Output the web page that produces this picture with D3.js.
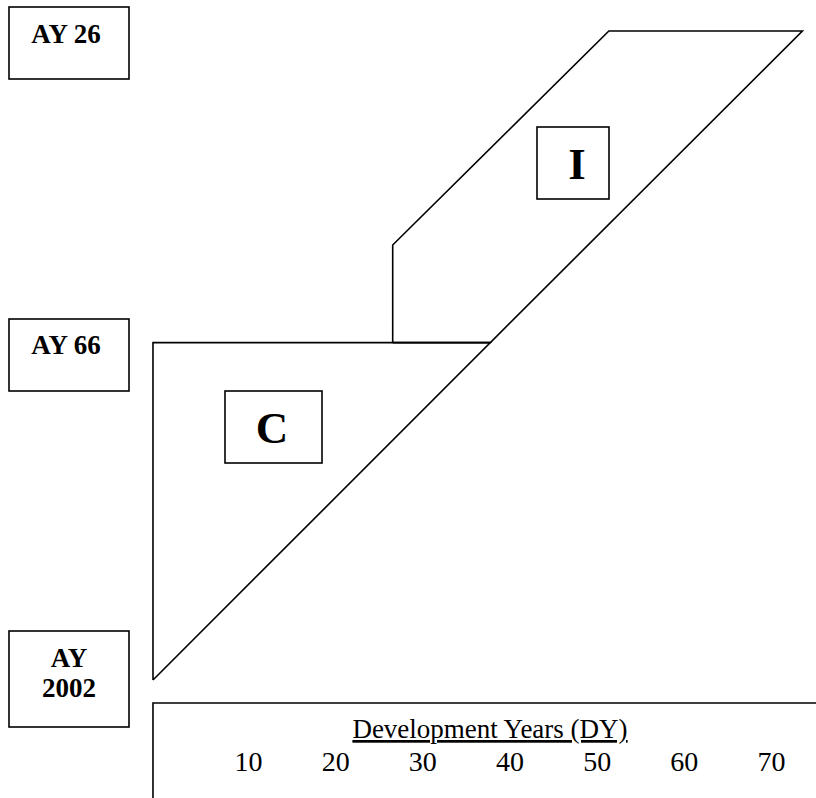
<!DOCTYPE html>
<html>
<head>
<meta charset="utf-8">
<script src="https://cdn.jsdelivr.net/npm/d3@7"></script>
<style>
  html, body { margin: 0; padding: 0; background: #fff; }
  svg { display: block; }
  text { font-family: "Liberation Serif", "Times New Roman", serif; fill: #000; }
</style>
</head>
<body>
<script>
// ---- data ----
const devYearTicks = [10, 20, 30, 40, 50, 60, 70];
const axisTitle = "Development Years (DY)";
const ayLabels = [["AY 26"], ["AY 66"], ["AY", "2002"]];
const regionLabels = ["C", "I"];
// region outlines in (development year, years above AY 2002 line)
const regionC = [[-0.9, 0], [-0.9, 38.7], [37.8, 38.7], [-0.9, 0]];
const regionI = [[26.6, 38.7], [26.6, 49.9], [51.4, 74.45], [73.6, 74.45], [37.8, 38.7], [26.6, 38.7]];

// ---- layout ----
const W = 816, H = 798;
const svg = d3.select("body").append("svg").attr("width", W).attr("height", H);

const x = d3.scaleLinear().domain([10, 70]).range([248, 771]);
const y = d3.scaleLinear().domain([0, 74.45]).range([680, 31]);

const line = d3.line().x(d => x(d[0])).y(d => y(d[1]));

svg.append("path").attr("d", line(regionC))
  .attr("fill", "none").attr("stroke", "#000").attr("stroke-width", 1.6);
svg.append("path").attr("d", line(regionI))
  .attr("fill", "none").attr("stroke", "#000").attr("stroke-width", 1.6);

// region label boxes
const regionBoxes = [
  { x: 225, y: 391, w: 97, h: 72, tx: 272, ty: 443 },
  { x: 537, y: 127, w: 72, h: 72, tx: 577, ty: 179 }
];
regionLabels.forEach((lab, i) => {
  const b = regionBoxes[i];
  svg.append("rect").attr("x", b.x).attr("y", b.y).attr("width", b.w).attr("height", b.h)
    .attr("fill", "#fff").attr("stroke", "#000").attr("stroke-width", 1.6);
  svg.append("text").attr("x", b.tx).attr("y", b.ty).attr("text-anchor", "middle")
    .attr("font-size", 45).attr("font-weight", "bold").text(lab);
});

// AY boxes
const ayBoxes = [
  { x: 9, y: 7, w: 120, h: 72, tx: 66, ty: [43] },
  { x: 9, y: 319, w: 120, h: 72, tx: 66, ty: [354] },
  { x: 9, y: 631, w: 120, h: 96, tx: 69, ty: [667, 697] }
];
ayLabels.forEach((lines, i) => {
  const b = ayBoxes[i];
  svg.append("rect").attr("x", b.x).attr("y", b.y).attr("width", b.w).attr("height", b.h)
    .attr("fill", "#fff").attr("stroke", "#000").attr("stroke-width", 1.6);
  lines.forEach((t, j) => {
    svg.append("text").attr("x", b.tx).attr("y", b.ty[j]).attr("text-anchor", "middle")
      .attr("font-size", 27).attr("font-weight", "bold").text(t);
  });
});

// bottom axis panel
svg.append("path").attr("d", `M${x(-0.9)},${H + 2}V703H${W + 2}`)
  .attr("fill", "none").attr("stroke", "#000").attr("stroke-width", 1.6);

const axis = d3.axisBottom(x).tickValues(devYearTicks).tickSize(0).tickPadding(0);
const ag = svg.append("g").attr("transform", "translate(0,771)").call(axis);
ag.select(".domain").remove();
ag.selectAll("text").attr("dy", 0).attr("y", 0)
  .attr("font-family", "Liberation Serif").attr("font-size", 28).attr("fill", "#000");

svg.append("text").attr("x", 490).attr("y", 738).attr("text-anchor", "middle")
  .attr("font-size", 27).attr("text-decoration", "underline").text(axisTitle);
</script>
</body>
</html>
